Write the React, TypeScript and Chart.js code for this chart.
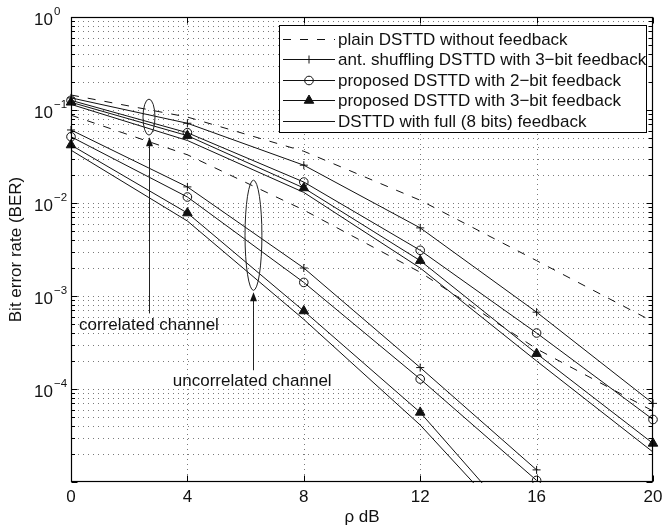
import React, { useEffect, useRef } from 'react';
import { Chart, registerables } from 'chart.js';

Chart.register(...registerables);

// ---------- data ----------
const snrDb = [0, 4, 8, 12, 16, 20];
const xTickValues = [0, 4, 8, 12, 16, 20];
const yTickExponents = [0, -1, -2, -3, -4];

// correlated channel
const plainCorr = [0.145, 0.084, 0.036, 0.0107, 0.0024, 0.00053];
const antCorr = [0.135, 0.072, 0.0255, 0.0054, 0.00067, 0.00007];
const twoBitCorr = [0.127, 0.057, 0.0168, 0.0031, 0.0004, 0.000047];
const threeBitCorr = [0.121, 0.053, 0.0145, 0.0024, 0.00024, 0.000026];
const fullCorr = [0.115, 0.047, 0.013, 0.002, 0.0002, 0.000021];

// uncorrelated channel
const plainUncorr = [0.088, 0.033, 0.0084, 0.0018, 0.00027, 0.000058];
const antUncorr = [0.061, 0.0149, 0.002, 0.00017, 0.0000135];
const twoBitUncorr = [0.0516, 0.0116, 0.0014, 0.000128, 0.0000104];
const threeBitUncorr = [0.042, 0.0078, 0.00069, 0.000056, 0.0000021];
const fullUncorr = [0.037, 0.0064, 0.00056, 0.000041, 0.0000018];

const legendLabels = [
  'plain DSTTD without feedback',
  'ant. shuffling DSTTD with 3\u2212bit feedback',
  'proposed DSTTD with 2\u2212bit feedback',
  'proposed DSTTD with 3\u2212bit feedback',
  'DSTTD with full (8 bits) feedback',
];
const kinds = ['plain', 'ant', 'two', 'three', 'full'] as const;

// annotations (data coordinates)
const annEllipses = [
  { cx: 2.68, top: 0.131, bottom: 0.0537, halfW: 0.206 },
  { cx: 6.27, top: 0.0176, bottom: 0.00115, halfW: 0.29 },
];
const annArrows = [
  { x: 2.68, from: 0.00065, to: 0.051 },
  { x: 6.27, from: 0.000159, to: 0.0011 },
];
const annTexts = [
  { text: 'correlated channel', x: 0.275, y: 0.000427 },
  { text: 'uncorrelated channel', x: 3.5, y: 0.000109 },
];

const FONT = '"Liberation Sans", Arial, Helvetica, sans-serif';
const INK = '#111';
const DASH = [8, 9];

type Kind = typeof kinds[number];

function styleFor(kind: Kind) {
  const base: any = {
    borderColor: INK,
    borderWidth: 1,
    pointBorderColor: INK,
    pointBorderWidth: 1,
    pointBackgroundColor: 'rgba(0,0,0,0)',
    pointRadius: 0,
    tension: 0,
    fill: false,
  };
  if (kind === 'plain') base.borderDash = DASH;
  if (kind === 'ant') { base.pointStyle = 'cross'; base.pointRadius = 4; }
  if (kind === 'two') { base.pointStyle = 'circle'; base.pointRadius = 4.3; }
  if (kind === 'three') { base.pointStyle = 'triangle'; base.pointRadius = 5.5; base.pointBackgroundColor = INK; }
  return base;
}

function drawMarker(ctx: CanvasRenderingContext2D, kind: Kind, x: number, y: number) {
  ctx.save();
  ctx.setLineDash([]);
  ctx.strokeStyle = INK;
  ctx.fillStyle = INK;
  ctx.lineWidth = 1;
  ctx.beginPath();
  if (kind === 'ant') {
    const r = 4;
    ctx.moveTo(x - r, y); ctx.lineTo(x + r, y);
    ctx.moveTo(x, y - r); ctx.lineTo(x, y + r);
    ctx.stroke();
  } else if (kind === 'two') {
    ctx.arc(x, y, 4.3, 0, Math.PI * 2);
    ctx.stroke();
  } else if (kind === 'three') {
    const r = 5.5;
    ctx.moveTo(x, y - r);
    ctx.lineTo(x + r * 0.866, y + r * 0.5);
    ctx.lineTo(x - r * 0.866, y + r * 0.5);
    ctx.closePath();
    ctx.fill();
    ctx.stroke();
  }
  ctx.restore();
}

const matlabPlugin = {
  id: 'matlabLook',
  beforeDraw(chart: any) {
    const ctx = chart.ctx;
    ctx.save();
    ctx.fillStyle = '#fff';
    ctx.fillRect(0, 0, chart.width, chart.height);
    ctx.restore();
  },
  beforeDatasetsDraw(chart: any) {
    const { ctx, chartArea: a, scales } = chart;
    const xs = scales.x, ys = scales.y;
    ctx.save();
    ctx.strokeStyle = '#7a7a7a';
    ctx.lineWidth = 1;
    ctx.setLineDash([1, 4]);
    // horizontal (log) grid incl. minor
    for (let e = -5; e <= 0; e++) {
      for (let m = 1; m <= 9; m++) {
        const v = m * Math.pow(10, e);
        if (v > 1 + 1e-12) break;
        const py = Math.round(ys.getPixelForValue(v)) + 0.5;
        if (py <= a.top + 1 || py >= a.bottom - 1) continue;
        ctx.beginPath();
        ctx.moveTo(a.left + 2, py);
        ctx.lineTo(a.right, py);
        ctx.stroke();
      }
    }
    // vertical grid
    for (const t of xTickValues) {
      const px = Math.round(xs.getPixelForValue(t)) + 0.5;
      if (px <= a.left + 1 || px >= a.right - 1) continue;
      ctx.beginPath();
      ctx.moveTo(px, a.top + 2);
      ctx.lineTo(px, a.bottom);
      ctx.stroke();
    }
    ctx.restore();
  },
  afterDatasetsDraw(chart: any) {
    const { ctx, chartArea: a, scales } = chart;
    const xs = scales.x, ys = scales.y;
    ctx.save();
    ctx.setLineDash([]);
    ctx.strokeStyle = '#000';
    ctx.lineWidth = 1.2;
    // box
    const L = Math.round(a.left) + 0.5, R = Math.round(a.right) - 0.5;
    const T = Math.round(a.top) + 0.5, B = Math.round(a.bottom) - 0.5;
    ctx.strokeRect(L, T, R - L, B - T);
    ctx.lineWidth = 1;
    // x ticks
    ctx.beginPath();
    for (const t of xTickValues) {
      const px = Math.round(xs.getPixelForValue(t)) + 0.5;
      ctx.moveTo(px, B); ctx.lineTo(px, B - 6);
      ctx.moveTo(px, T); ctx.lineTo(px, T + 6);
    }
    // y ticks
    for (let e = -5; e <= 0; e++) {
      for (let m = 1; m <= 9; m++) {
        const v = m * Math.pow(10, e);
        if (v > 1 + 1e-12) break;
        const py = Math.round(ys.getPixelForValue(v)) + 0.5;
        const len = m === 1 ? 6 : 3.5;
        ctx.moveTo(L, py); ctx.lineTo(L + len, py);
        ctx.moveTo(R, py); ctx.lineTo(R - len, py);
      }
    }
    ctx.stroke();

    // tick labels
    ctx.fillStyle = INK;
    ctx.font = `17px ${FONT}`;
    ctx.textAlign = 'center';
    ctx.textBaseline = 'alphabetic';
    for (const t of xTickValues) {
      ctx.fillText(String(t), xs.getPixelForValue(t), 502);
    }
    for (const e of yTickExponents) {
      const py = ys.getPixelForValue(Math.pow(10, e));
      ctx.font = `17px ${FONT}`;
      ctx.textAlign = 'right';
      ctx.fillText('10', 53, py + 7.5);
      ctx.font = `11.5px ${FONT}`;
      ctx.textAlign = 'left';
      ctx.fillText(e === 0 ? '0' : '\u2212' + String(-e), 54, py - 2.5);
    }
    // axis titles
    ctx.font = `17px ${FONT}`;
    ctx.textAlign = 'center';
    ctx.fillText('\u03c1 dB', (a.left + a.right) / 2, 522);
    ctx.save();
    ctx.translate(21, (a.top + a.bottom) / 2);
    ctx.rotate(-Math.PI / 2);
    ctx.fillText('Bit error rate (BER)', 0, 0);
    ctx.restore();

    // annotations
    ctx.strokeStyle = '#222';
    ctx.lineWidth = 1;
    for (const el of annEllipses) {
      const cx = xs.getPixelForValue(el.cx);
      const top = ys.getPixelForValue(el.top);
      const bot = ys.getPixelForValue(el.bottom);
      const rx = Math.abs(xs.getPixelForValue(el.cx + el.halfW) - cx);
      ctx.beginPath();
      ctx.ellipse(cx, (top + bot) / 2, rx, (bot - top) / 2, 0, 0, Math.PI * 2);
      ctx.stroke();
    }
    ctx.fillStyle = INK;
    for (const ar of annArrows) {
      const px = Math.round(xs.getPixelForValue(ar.x)) + 0.5;
      const y0 = ys.getPixelForValue(ar.from);
      const y1 = ys.getPixelForValue(ar.to);
      ctx.beginPath();
      ctx.moveTo(px, y0);
      ctx.lineTo(px, y1 + 6);
      ctx.stroke();
      ctx.beginPath();
      ctx.moveTo(px, y1);
      ctx.lineTo(px + 3.5, y1 + 9);
      ctx.lineTo(px - 3.5, y1 + 9);
      ctx.closePath();
      ctx.fill();
    }
    ctx.font = `17px ${FONT}`;
    ctx.textAlign = 'left';
    for (const tx of annTexts) {
      ctx.fillText(tx.text, xs.getPixelForValue(tx.x), ys.getPixelForValue(tx.y));
    }

    // legend
    const bx = 279.5, by = 25.5, bw = 367, bh = 107;
    ctx.fillStyle = '#fff';
    ctx.fillRect(bx, by, bw, bh);
    ctx.strokeStyle = '#000';
    ctx.strokeRect(bx, by, bw, bh);
    ctx.font = `17px ${FONT}`;
    ctx.textBaseline = 'middle';
    legendLabels.forEach((lab, i) => {
      const yy = Math.round(38.5 + i * 20.5) + 0.5;
      const kind = kinds[i];
      ctx.save();
      ctx.strokeStyle = INK;
      ctx.lineWidth = 1;
      ctx.setLineDash(kind === 'plain' ? DASH : []);
      ctx.beginPath();
      ctx.moveTo(283, yy);
      ctx.lineTo(335, yy);
      ctx.stroke();
      ctx.restore();
      drawMarker(ctx, kind, 309, yy);
      ctx.fillStyle = INK;
      ctx.fillText(lab, 338, yy + 1);
    });
    ctx.restore();
  },
};

export default function App() {
  const ref = useRef<HTMLCanvasElement>(null);
  useEffect(() => {
    if (!ref.current) return;
    const toPts = (vals: number[]) => vals.map((v, i) => ({ x: snrDb[i], y: v }));
    const groups = [
      [plainCorr, antCorr, twoBitCorr, threeBitCorr, fullCorr],
      [plainUncorr, antUncorr, twoBitUncorr, threeBitUncorr, fullUncorr],
    ];
    const datasets: any[] = [];
    groups.forEach((g, gi) => {
      g.forEach((vals, k) => {
        datasets.push({
          label: legendLabels[k] + (gi === 0 ? ' (correlated)' : ' (uncorrelated)'),
          data: toPts(vals),
          clip: { left: 10, top: 10, right: 10, bottom: 1 },
          ...styleFor(kinds[k]),
        });
      });
    });
    const chart = new Chart(ref.current, {
      type: 'line',
      data: { datasets },
      options: {
        animation: false,
        responsive: false,
        devicePixelRatio: 1,
        layout: { padding: { left: 71, top: 17, right: 10, bottom: 43 } },
        scales: {
          x: { type: 'linear', min: 0, max: 20, display: false },
          y: { type: 'logarithmic', min: 1e-5, max: 1, display: false },
        },
        plugins: { legend: { display: false }, tooltip: { enabled: false } },
      },
      plugins: [matlabPlugin],
    } as any);
    return () => chart.destroy();
  }, []);
  return (
    <div style={{ position: 'absolute', left: 0, top: 0, width: 663, height: 525 }}>
      <canvas ref={ref} width={663} height={525} style={{ display: 'block', width: 663, height: 525 }} />
    </div>
  );
}
